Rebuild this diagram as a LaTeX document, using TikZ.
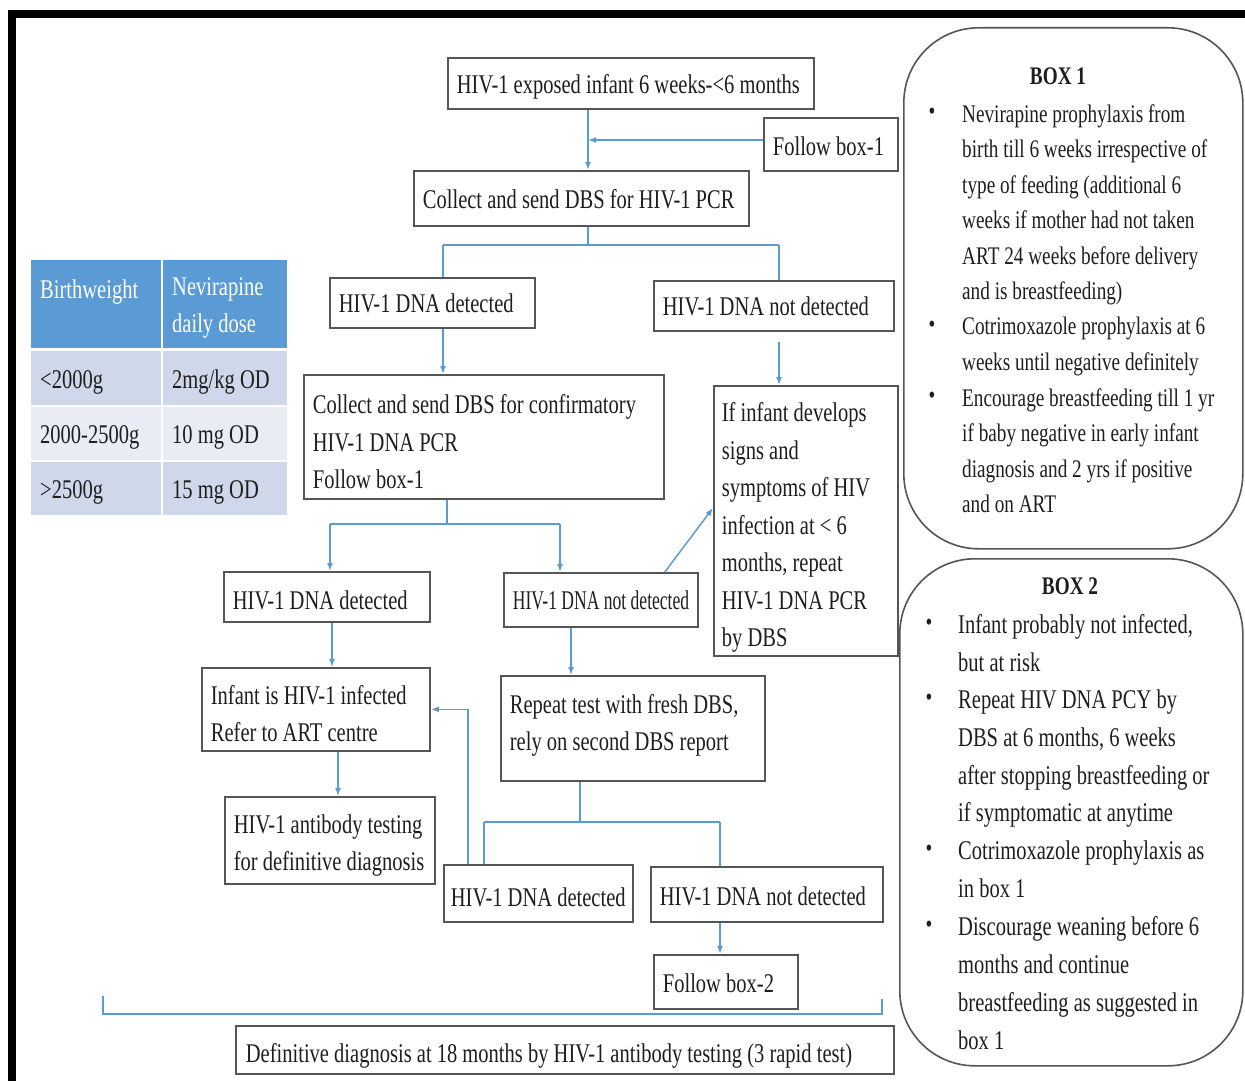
\documentclass[tikz,border=0pt]{standalone}
\usepackage{fontspec}
\setmainfont[FakeStretch=0.76]{Liberation Serif}
\newfontfamily\narrowfont[FakeStretch=0.65]{Liberation Serif}
\usetikzlibrary{arrows.meta}

\definecolor{linkblue}{RGB}{91,155,213}
\definecolor{edgegray}{RGB}{85,85,85}
\definecolor{inkgray}{RGB}{30,30,30}
\definecolor{headblue}{RGB}{91,155,213}
\definecolor{rowa}{RGB}{207,215,234}
\definecolor{rowb}{RGB}{233,236,245}

\newcommand\flowsize{\fontsize{27}{37.5}\selectfont}
\newcommand\boxonesize{\fontsize{25.3}{35.5}\selectfont}
\newcommand\boxtwosize{\fontsize{27}{37.8}\selectfont}
% left-aligned block of lines with natural word spacing,
% optionally lowered inside its box without changing the box size
\newcommand\flowpar[3][0pt]{\raisebox{-#1}[\height][\depth]{\parbox{#2}{\raggedright #3}}}

\begin{document}
\begin{tikzpicture}[x=1pt,y=-1pt,
  flow/.style={draw=edgegray, line width=1.8pt, fill=white, anchor=north west,
    inner xsep=9pt, inner ysep=0pt, font=\flowsize, text=inkgray},
  conn/.style={draw=linkblue, line width=1.5pt},
  arr/.style={conn, -{Latex[length=8pt,width=6pt]}},
  cell/.style={anchor=north west, inner xsep=9pt, inner ysep=0pt,
    font=\flowsize, text=inkgray},
  headcell/.style={cell, fill=headblue, text=white},
  roundbox/.style={draw=edgegray, line width=1.6pt, rounded corners=75pt,
    anchor=north west, inner sep=0pt, fill=white},
  boxtitle/.style={font=\boxonesize\bfseries, text=inkgray, inner sep=0pt},
  dot/.style={font=\boxonesize, text=inkgray, inner sep=0pt},
  itemone/.style={font=\boxonesize, text=inkgray, align=left, anchor=north west, inner sep=0pt},
  itemtwo/.style={font=\boxtwosize, text=inkgray, align=left, anchor=north west, inner sep=0pt}
]
\useasboundingbox (0,0) rectangle (1245,1081);
\fill[white] (0,0) rectangle (1245,1081);

% heavy black frame along the top and left
\fill[black] (8,10) rectangle (16,1081);
\fill[black] (8,10) rectangle (1245,18);

% ---------- dose table ----------
\node[headcell, minimum height=88pt] (h1) at (31,260) {\flowpar[4pt]{112pt}{Birthweight\\~}};
\node[headcell, minimum height=88pt] (h2) at (163,260) {\flowpar[4pt]{106pt}{Nevirapine\\daily dose}};
\node[cell, fill=rowa, minimum height=54pt] (r1a) at (31,351) {\flowpar[4pt]{112pt}{<2000g}};
\node[cell, fill=rowa, minimum height=54pt] (r1b) at (163,351) {\flowpar[4pt]{106pt}{2mg/kg OD}};
\node[cell, fill=rowb, minimum height=53pt] (r2a) at (31,407) {\flowpar[4pt]{112pt}{2000-2500g}};
\node[cell, fill=rowb, minimum height=53pt] (r2b) at (163,407) {\flowpar[4pt]{106pt}{10 mg OD}};
\node[cell, fill=rowa, minimum height=53pt] (r3a) at (31,462) {\flowpar[4pt]{112pt}{>2500g}};
\node[cell, fill=rowa, minimum height=53pt] (r3b) at (163,462) {\flowpar[4pt]{106pt}{15 mg OD}};

% ---------- flowchart boxes ----------
\node[flow, minimum height=51pt] (top) at (447,57)
  {\flowpar[3pt]{348pt}{HIV-1 exposed infant 6 weeks-<6 months}};
\node[flow, minimum height=53pt] (fb1) at (763,117) {\flowpar[2pt]{116pt}{Follow box-1}};
\node[flow, minimum height=55pt] (collect) at (413,170)
  {\flowpar[1pt]{317pt}{Collect and send DBS for HIV-1 PCR}};
\node[flow, minimum height=50pt] (det1) at (329,277) {\flowpar{187pt}{HIV-1 DNA detected}};
\node[flow, minimum height=50pt] (notdet1) at (653,280) {\flowpar{222pt}{HIV-1 DNA not detected}};
\node[flow, minimum height=124pt] (conf) at (303,374)
  {\flowpar[5pt]{342pt}{Collect and send DBS for confirmatory\\HIV-1 DNA PCR\\Follow box-1}};
\node[flow, inner xsep=8pt, minimum height=270pt] (ifinf) at (713,385)
  {\flowpar[7pt]{168pt}{If infant develops\\signs and\\symptoms of HIV\\infection at < 6\\months, repeat\\HIV-1 DNA PCR\\by DBS}};
\node[flow, minimum height=50pt] (det2) at (223,571) {\flowpar[3pt]{188pt}{HIV-1 DNA detected}};
\node[flow, minimum height=54pt, font=\flowsize\narrowfont] (notdet2) at (503,572)
  {\flowpar{176pt}{\mbox{HIV-1 DNA not detected}}};
\node[flow, minimum height=83pt] (infant) at (201,667)
  {\flowpar[4pt]{210pt}{Infant is HIV-1 infected\\Refer to ART centre}};
\node[flow, minimum height=105pt] (repeat) at (500,675)
  {\flowpar[-3pt]{246pt}{Repeat test with fresh DBS,\\rely on second DBS report}};
\node[flow, minimum height=87pt] (antibody) at (224,796)
  {\flowpar[5pt]{192pt}{\mbox{HIV-1 antibody testing}\\\mbox{for definitive diagnosis}}};
\node[flow, inner xsep=7pt, minimum height=57pt] (det3) at (443,864)
  {\flowpar[4pt]{175pt}{\mbox{HIV-1 DNA detected}}};
\node[flow, minimum height=55pt] (notdet3) at (650,866) {\flowpar[2pt]{214pt}{HIV-1 DNA not detected}};
\node[flow, minimum height=54pt] (fb2) at (653,954) {\flowpar[1pt]{126pt}{Follow box-2}};
\node[flow, inner xsep=10pt, minimum height=48pt] (final) at (235,1025)
  {\flowpar[6pt]{638pt}{Definitive diagnosis at 18 months by HIV-1 antibody testing (3 rapid test)}};

% ---------- connector junctions ----------
\coordinate (j1) at (588,140);
\coordinate (s1) at (588,245);
\coordinate (s1a) at (443,245);
\coordinate (s1b) at (779,245);
\coordinate (s2) at (447,524);
\coordinate (s2a) at (330,524);
\coordinate (s2b) at (560,524);
\coordinate (v1) at (571,650);
\coordinate (v2) at (332,650);
\coordinate (v3) at (338,780);
\coordinate (v4) at (468,780);
\coordinate (s3) at (580,822);
\coordinate (s3a) at (484,822);
\coordinate (s3b) at (720,822);
\coordinate (bl1) at (103,996);
\coordinate (bl2) at (103,1014);
\coordinate (br2) at (882,1014);
\coordinate (br1) at (882,999);

% ---------- connectors ----------
\draw[arr] (top.south -| j1) -- (collect.north -| j1);
\draw[arr] (fb1.west |- j1) -- (j1);

\draw[conn] (collect.south -| s1) -- (s1);
\draw[conn] (s1a) -- (s1b);
\draw[conn] (s1a) -- (det1.north -| s1a);
\draw[conn] (s1b) -- (notdet1.north -| s1b);
\draw[arr] (det1.south -| s1a) -- (conf.north -| s1a);
\draw[arr] ([yshift=-10pt]notdet1.south -| s1b) -- (ifinf.north -| s1b);

\draw[conn] (conf.south -| s2) -- (s2);
\draw[conn] (s2a) -- (s2b);
\draw[arr] (s2a) -- (det2.north -| s2a);
\draw[arr] (s2b) -- (notdet2.north -| s2b);
\draw[arr] ([xshift=-34pt]notdet2.north east) -- ([yshift=13pt]ifinf.west);

\draw[arr] (notdet2.south -| v1) -- (repeat.north -| v1);
\draw[arr] (det2.south -| v2) -- (infant.north -| v2);
\draw[arr] (infant.south -| v3) -- (antibody.north -| v3);
\draw[arr] (det3.north -| v4) |- (infant.east);

\draw[conn] (repeat.south -| s3) -- (s3);
\draw[conn] (s3a) -- (s3b);
\draw[conn] (s3a) -- (det3.north -| s3a);
\draw[conn] (s3b) -- (notdet3.north -| s3b);
\draw[arr] (notdet3.south -| s3b) -- (fb2.north -| s3b);

\draw[conn] (bl1) -- (bl2) -- (br2) -- (br1);

% ---------- BOX 1 ----------
\node[roundbox, minimum width=339pt, minimum height=521pt] (box1) at (903,27) {};
\node[boxtitle] (b1t) at (1058,76) {BOX 1};
\node[dot] (b1d1) at (932,114) {•};
\node[itemone] (b1i1) at (962,104)
  {Nevirapine prophylaxis from\\birth till 6 weeks irrespective of\\type of feeding (additional 6\\weeks if mother had not taken\\ART 24 weeks before delivery\\and is breastfeeding)};
\node[dot] (b1d2) at (932,327) {•};
\node[itemone] (b1i2) at (962,317)
  {Cotrimoxazole prophylaxis at 6\\weeks until negative definitely};
\node[dot] (b1d3) at (932,398) {•};
\node[itemone] (b1i3) at (962,388)
  {Encourage breastfeeding till 1 yr\\if baby negative in early infant\\diagnosis and 2 yrs if positive\\and on ART};

% ---------- BOX 2 ----------
\node[roundbox, minimum width=343pt, minimum height=507pt] (box2) at (899,558) {};
\node[boxtitle] (b2t) at (1070,586) {BOX 2};
\node[dot] (b2d1) at (929,625) {•};
\node[itemtwo] (b2i1) at (958,614.5)
  {Infant probably not infected,\\but at risk};
\node[dot] (b2d2) at (929,700) {•};
\node[itemtwo] (b2i2) at (958,689.5)
  {Repeat HIV DNA PCY by\\DBS at 6 months, 6 weeks\\after stopping breastfeeding or\\if symptomatic at anytime};
\node[dot] (b2d3) at (929,851) {•};
\node[itemtwo] (b2i3) at (958,840.5)
  {Cotrimoxazole prophylaxis as\\in box 1};
\node[dot] (b2d4) at (929,927) {•};
\node[itemtwo] (b2i4) at (958,916.5)
  {Discourage weaning before 6\\months and continue\\breastfeeding as suggested in\\box 1};
\end{tikzpicture}
\end{document}
